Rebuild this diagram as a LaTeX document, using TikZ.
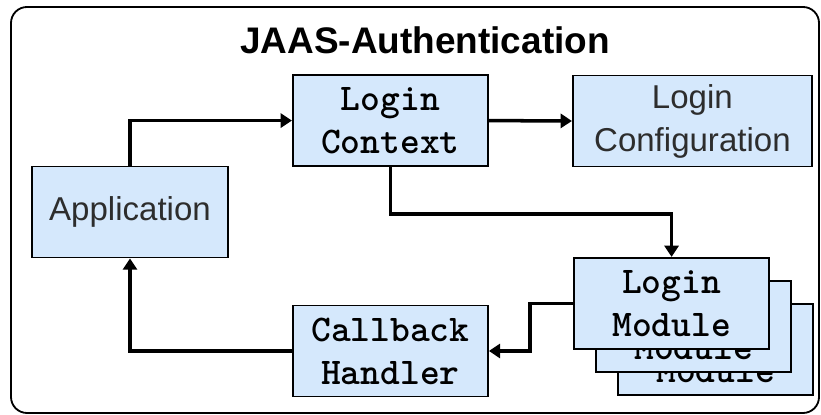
\documentclass[tikz,border=0pt]{standalone}
\usepackage{fontspec}
\setmainfont{Liberation Sans}
\usetikzlibrary{arrows.meta}

\definecolor{boxblue}{RGB}{213,232,252}
\definecolor{boxtext}{RGB}{45,45,45}

\begin{document}
\begin{tikzpicture}[
    box/.style={draw,line width=1.4pt,fill=boxblue,text=boxtext,align=center,inner sep=0pt,
      minimum width=4.875cm,minimum height=2.275cm,font=\fontsize{23.5}{30.6}\selectfont},
    codebox/.style={box,text=black,font=\fontsize{26.8}{30.6}\selectfont\ttfamily\bfseries},
    arr/.style={line width=2.5pt,-{Triangle[length=8pt,width=10pt]}}]
    \useasboundingbox (0,0) rectangle (20.525,10.375);
    \draw[line width=1.3pt,rounded corners=0.4cm] (0.275,0.05) rectangle (20.475,10.2);
    \node (0) at (10.625,9.025) [anchor=base,font=\fontsize{26.3}{30}\selectfont\bfseries]{JAAS-Authentication};

    \node (1) at (9.76,7.36) [codebox]{Login\\Context};
    \node (2) at (17.31,7.35) [box,minimum width=5.975cm]{Login\\Configuration};
    \node (3) at (3.25,5.075) [box,minimum width=4.9cm]{Application};
    \node (4) at (9.76,1.6) [codebox]{Callback\\Handler};
    % module stack, back to front
    \node (7) at (17.89,1.64) [codebox]{Login\\Module};
    \node (6) at (17.34,2.21) [codebox]{Login\\Module};
    \node (5) at (16.79,2.79) [codebox]{Login\\Module};

    \draw[arr] (node cs:name=3,anchor=north) |- (node cs:name=1,anchor=west);
    \draw[arr] (node cs:name=1,anchor=east) -- (node cs:name=2,anchor=west);

    \draw[arr] (node cs:name=1,anchor=south) -- ++(0,-1.175) -| (node cs:name=5,anchor=north);

    \draw[arr] (node cs:name=5,anchor=west) -- ++(-1.075,0) |- (node cs:name=4,anchor=east);
    \draw[arr] (node cs:name=4,anchor=west) -| (node cs:name=3,anchor=south);

\end{tikzpicture}
\end{document}
